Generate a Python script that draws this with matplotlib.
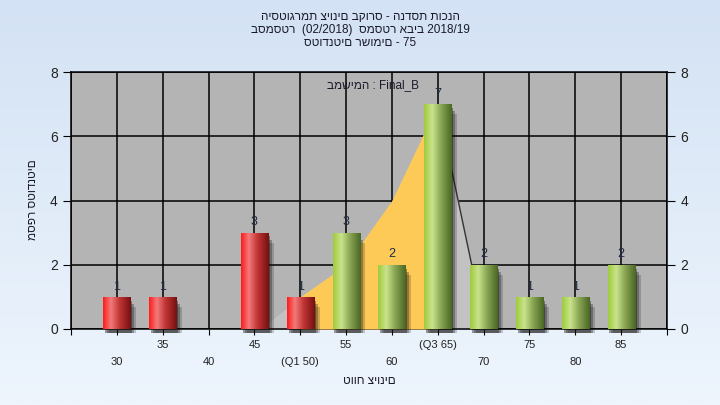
import matplotlib
matplotlib.use("Agg")
import matplotlib.pyplot as plt
from matplotlib.colors import LinearSegmentedColormap
from matplotlib.patches import Rectangle
import numpy as np

plt.rcParams['font.family'] = ['Liberation Sans', 'DejaVu Sans']

# data
grades = [30, 35, 40, 45, 50, 55, 60, 65, 70, 75, 80, 85]
counts = [1, 1, 0, 3, 1, 3, 2, 7, 2, 1, 1, 2]
tick_labels = ['30', '35', '40', '45', '(Q1 50)', '55', '60', '(Q3 65)', '70', '75', '80', '85']
pass_grade = 55

# outline of the distribution area drawn behind the bars
curve_x = [45.7, 50, 55, 60, 65, 68.7, 70]
curve_y = [0, 1, 2, 4, 7, 2, 2]
q1, q3 = 50, 65

# the reference draws hebrew glyphs left to right, in logical order
title_lines = [
    'היסטוגרמת ציונים בקורס - הנדסת תוכנה',
    'בסמסטר  (02/2018)  סמסטר אביב 2018/19',
    'סטודנטים רשומים - 75',
]
note = 'במשימה : Final_B'
xlabel = 'טווח ציונים'
ylabel = 'מספר סטודנטים'

fig = plt.figure(figsize=(7.2, 4.05), dpi=100)

# light blue background gradient
bg = fig.add_axes([0, 0, 1, 1], zorder=-10)
bg_cmap = LinearSegmentedColormap.from_list('bg', ['#d3e2f4', '#eef5fd'])
bg.imshow(np.linspace(0, 1, 256).reshape(-1, 1), aspect='auto', cmap=bg_cmap,
          extent=[0, 1, 0, 1])
bg.axis('off')

ax = fig.add_axes([71 / 720, 1 - 329 / 405, 596 / 720, 257 / 405])
ax.set_facecolor('#b4b4b4')

# grid
for gx in range(25, 91, 5):
    ax.axvline(gx, color='black', lw=1.1, zorder=1)
for gy in range(0, 9, 2):
    ax.axhline(gy, color='black', lw=1.1, zorder=1)

# distribution area: light grey, yellow between quartiles
cx = np.array(curve_x)
cy = np.array(curve_y)
ax.fill_between(cx, 0, cy, color='#c2c2c2', lw=0, zorder=2)
ax.fill_between(cx, 0, cy, where=(cx >= q1) & (cx <= q3), color='#fdc957',
                lw=0, zorder=3)
ax.plot(cx[4:6], cy[4:6], color='#333333', lw=1, zorder=3)

red_cmap = LinearSegmentedColormap.from_list(
    'red', [(0, '#ff1a1a'), (0.28, '#f27a7a'), (0.6, '#c03434'), (1, '#761010')])
green_cmap = LinearSegmentedColormap.from_list(
    'green', [(0, '#9fcb3c'), (0.3, '#c9e38c'), (0.6, '#8aa855'), (1, '#4a6624')])

bw = 2.95
# soft shadows to the right of each bar
for g, c in zip(grades, counts):
    if c == 0:
        continue
    for k, a in enumerate([0.4, 0.3, 0.2]):
        ax.add_patch(Rectangle((g - bw / 2 + 0.2 + 0.22 * k, -0.14), bw, c + 0.02 - 0.1 * k,
                               color='#111111', alpha=a, lw=0, zorder=4, clip_on=False))

bars = ax.bar(grades, counts, width=bw, color='none', lw=0, zorder=5)
grad = np.linspace(0, 1, 128).reshape(1, -1)
for b, g, c in zip(bars, grades, counts):
    if c == 0:
        continue
    cmap = green_cmap if g >= pass_grade else red_cmap
    x0, y0 = b.get_x(), b.get_y()
    im = ax.imshow(grad, aspect='auto', cmap=cmap, zorder=5,
                   extent=[x0, x0 + b.get_width(), y0, y0 + b.get_height()])
    im.set_clip_path(b)
    ax.text(g, c + 0.32, str(c), ha='center', va='center', fontsize=9,
            color='#1e2a44', zorder=6)

ax.set_xlim(25, 90)
ax.set_ylim(0, 8)

# ticks: labels on two alternating rows
ax.set_xticks(range(25, 91, 5))
ax.set_xticklabels([])
ax.tick_params(axis='x', length=4, color='black')
for i, (g, lab) in enumerate(zip(grades, tick_labels)):
    row = 345 if i % 2 else 362
    fig.text(ax.transData.transform((g, 0))[0] / 720, 1 - row / 405, lab,
             ha='center', va='center', fontsize=8, color='#222222')

ax.set_yticks(range(0, 9, 2))
ax.tick_params(axis='y', length=6, color='black', labelsize=10, labelcolor='#222222',
               right=True, labelright=True)
for s in ax.spines.values():
    s.set_color('black')
    s.set_linewidth(1.1)

for i, line in enumerate(title_lines):
    fig.text(0.5, 1 - (17 + 13 * i) / 405, line, ha='center', va='center',
             fontsize=8.5, color='#1a1a2a')

fig.text(373 / 720, 1 - 85 / 405, note, ha='center', va='center', fontsize=8.5,
         color='#1a1a2a', zorder=7)

fig.text(369 / 720, 1 - 381 / 405, xlabel, ha='center', va='center', fontsize=8.5,
         color='#1a1a2a')
fig.text(33 / 720, 1 - 200 / 405, ylabel, ha='center', va='center', fontsize=8.5,
         rotation=90, color='#1a1a2a')

fig.savefig('out.png', dpi=100)
